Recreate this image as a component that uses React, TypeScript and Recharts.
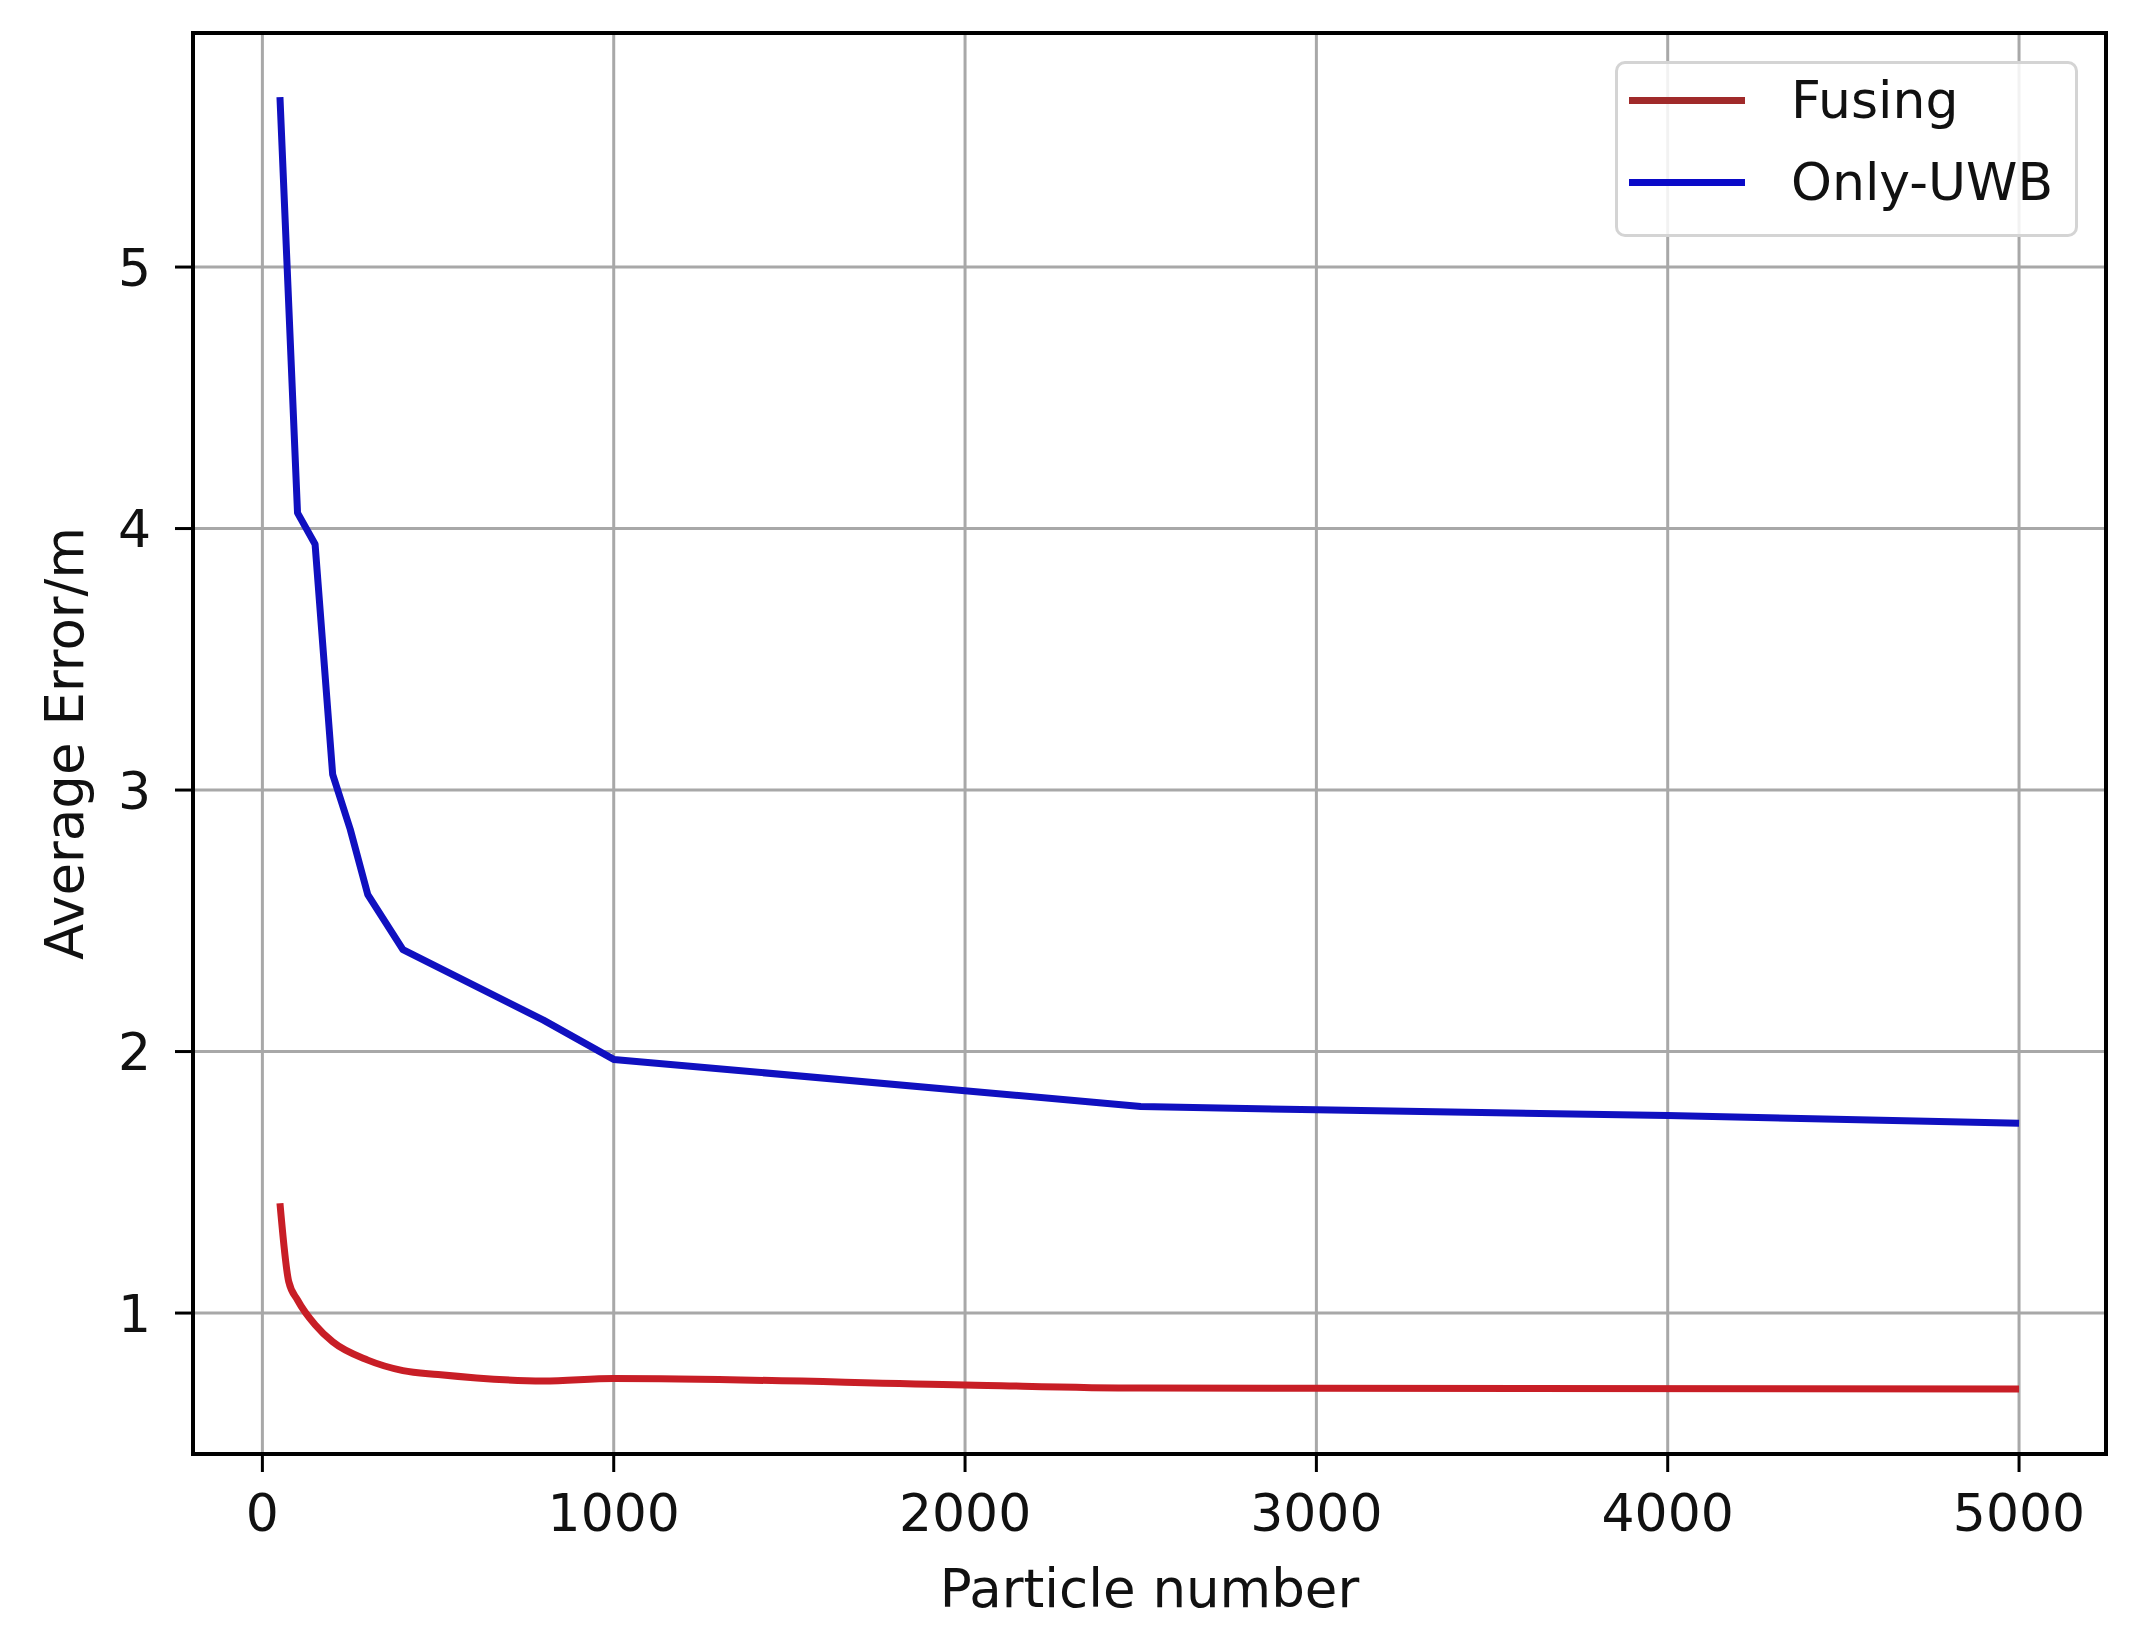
import React from "react";
import {
  LineChart,
  Line,
  XAxis,
  YAxis,
  CartesianGrid,
  Legend,
  ReferenceArea,
} from "recharts";

// Particle counts and average errors
const uwbParticles = [50, 100, 150, 200, 250, 300, 400, 800, 1000, 2500, 3000, 4000, 5000];
const uwbError = [5.65, 4.06, 3.94, 3.06, 2.85, 2.6, 2.39, 2.12, 1.97, 1.79, 1.777, 1.755, 1.726];

const fusingParticles = [50, 75, 100, 150, 200, 300, 400, 500, 800, 1000, 2000, 2500, 3000, 5000];
const fusingError = [1.42, 1.12, 1.05, 0.955, 0.89, 0.82, 0.78, 0.765, 0.74, 0.75, 0.725, 0.713, 0.712, 0.71];

const xTicks = [0, 1000, 2000, 3000, 4000, 5000];
const yTicks = [1, 2, 3, 4, 5];

const X_DOMAIN: [number, number] = [-197.5, 5247.5];
const Y_DOMAIN: [number, number] = [0.461, 5.895];

const FONT = "DejaVu Sans";

const legendItems = [
  { name: "Fusing", color: "#a02a2a" },
  { name: "Only-UWB", color: "#0a0ac8" },
];

const renderLegend = () => (
  <div
    style={{
      width: 463,
      height: 176,
      boxSizing: "border-box",
      border: "3px solid #d4d4d4",
      borderRadius: 10,
      background: "rgba(255,255,255,0.85)",
      position: "relative",
      fontFamily: FONT,
      fontSize: 52,
      color: "#111",
    }}
  >
    {legendItems.map((item, i) => (
      <div
        key={item.name}
        style={{
          position: "absolute",
          left: 11,
          top: 10 + i * 82,
          height: 52,
          display: "flex",
          alignItems: "center",
        }}
      >
        <span
          style={{
            display: "inline-block",
            width: 116,
            height: 7,
            background: item.color,
            marginRight: 46,
          }}
        />
        <span style={{ lineHeight: "52px", whiteSpace: "nowrap" }}>{item.name}</span>
      </div>
    ))}
  </div>
);

export default function App() {
  const uwbData = uwbParticles.map((x, i) => ({ x, y: uwbError[i] }));
  const fusingData = fusingParticles.map((x, i) => ({ x, y: fusingError[i] }));

  return (
    <div
      style={{
        position: "absolute",
        left: 0,
        top: 0,
        width: 2135,
        height: 1637,
        background: "#fff",
      }}
    >
      <LineChart
        width={2135}
        height={1637}
        margin={{ top: 33, right: 29, bottom: 0, left: 0 }}
      >
        <CartesianGrid stroke="#a8a8a8" strokeWidth={3} />
        <XAxis
          type="number"
          dataKey="x"
          domain={X_DOMAIN}
          ticks={xTicks}
          interval={0}
          allowDataOverflow
          height={183}
          tickSize={18}
          tickMargin={22}
          axisLine={{ stroke: "#000", strokeWidth: 4 }}
          tickLine={{ stroke: "#000", strokeWidth: 3 }}
          tick={{ fill: "#111", fontSize: 52, fontFamily: FONT }}
          label={{
            value: "Particle number",
            position: "insideBottom",
            offset: 30,
            fill: "#111",
            fontSize: 53,
            fontFamily: FONT,
          }}
        />
        <YAxis
          type="number"
          dataKey="y"
          domain={Y_DOMAIN}
          ticks={yTicks}
          interval={0}
          allowDataOverflow
          width={193}
          tickSize={18}
          tickMargin={24}
          axisLine={{ stroke: "#000", strokeWidth: 4 }}
          tickLine={{ stroke: "#000", strokeWidth: 3 }}
          tick={{ fill: "#111", fontSize: 52, fontFamily: FONT }}
          label={{
            value: "Average Error/m",
            angle: -90,
            position: "center",
            dx: -32,
            fill: "#111",
            fontSize: 53,
            fontFamily: FONT,
          }}
        />
        <Line
          data={fusingData}
          dataKey="y"
          name="Fusing"
          type="monotone"
          stroke="#c81e26"
          strokeWidth={7}
          strokeLinejoin="round"
          dot={false}
          activeDot={false}
          isAnimationActive={false}
        />
        <Line
          data={uwbData}
          dataKey="y"
          name="Only-UWB"
          type="linear"
          stroke="#1010c0"
          strokeWidth={7}
          strokeLinejoin="round"
          dot={false}
          activeDot={false}
          isAnimationActive={false}
        />
        <ReferenceArea
          x1={X_DOMAIN[0]}
          x2={X_DOMAIN[1]}
          y1={Y_DOMAIN[0]}
          y2={Y_DOMAIN[1]}
          fill="none"
          stroke="#000"
          strokeWidth={4}
          ifOverflow="visible"
        />
        <Legend
          layout="horizontal"
          verticalAlign="middle"
          align="center"
          content={renderLegend}
          wrapperStyle={{ position: "absolute", left: 1615, top: 61, width: 463, height: 176 }}
        />
      </LineChart>
    </div>
  );
}
